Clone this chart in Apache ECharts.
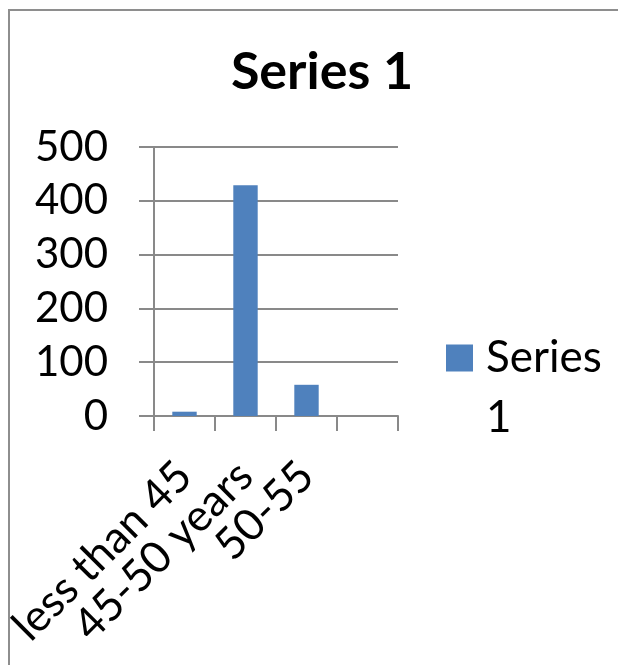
<!DOCTYPE html>
<html>
<head>
<meta charset="utf-8">
<script src="https://cdn.jsdelivr.net/npm/echarts@6/dist/echarts.min.js"></script>
<style>
  html, body { margin: 0; padding: 0; background: #ffffff; }
  #chart { width: 618px; height: 665px; }
</style>
</head>
<body>
<div id="chart"></div>
<script>
// Age groups and head counts
const categories = ['less than 45', '45-50 years', '50-55', ''];
const seriesName = 'Series 1';
const seriesValues = [8, 429, 58, null];
const yTicks = [0, 100, 200, 300, 400, 500];

const FONT = 'Lato, "Open Sans", sans-serif';
const GRAY = '#898989';
const BAR_COLOR = '#4F81BD';

const chart = echarts.init(document.getElementById('chart'), null, { renderer: 'canvas' });

chart.setOption({
  backgroundColor: '#ffffff',
  animation: false,
  title: {
    text: seriesName,
    left: 317,
    textAlign: 'center',
    top: 41,
    textStyle: { fontFamily: FONT, fontWeight: 'bold', fontSize: 52, color: '#000000' }
  },
  graphic: [{
    type: 'rect',
    shape: { x: 9, y: 10, width: 700, height: 800 },
    style: { fill: 'none', stroke: '#8e8e8e', lineWidth: 2 },
    silent: true
  }],
  // Legend: the swatch sits beside the first line of the wrapped name
  legend: {
    data: [seriesName],
    orient: 'vertical',
    left: 441,
    top: 328,
    padding: 0,
    itemWidth: 0,
    itemHeight: 0,
    itemGap: 0,
    icon: 'rect',
    formatter: () => '{box|}{gap|}{t|Series}\n{indent|}{t|1}',
    textStyle: {
      fontFamily: FONT, fontSize: 44, color: '#000000', lineHeight: 60,
      rich: {
        box: { width: 27, height: 27, backgroundColor: BAR_COLOR },
        gap: { width: 13 },
        indent: { width: 40 },
        t: { fontFamily: FONT, fontSize: 44, color: '#000000', lineHeight: 60 }
      }
    }
  },
  grid: { left: 154, right: 220, top: 147, bottom: 249, containLabel: false },
  xAxis: {
    type: 'category',
    data: categories,
    boundaryGap: true,
    axisLine: { show: true, lineStyle: { color: GRAY, width: 2 } },
    axisTick: { show: true, length: 15, alignWithLabel: false, lineStyle: { color: GRAY, width: 2 } },
    axisLabel: {
      interval: 0, rotate: 45, margin: 53,
      padding: [11, 0, 0, 0],
      fontFamily: FONT, fontSize: 44, color: '#000000'
    },
    splitLine: { show: false }
  },
  yAxis: {
    type: 'value',
    min: yTicks[0],
    max: yTicks[yTicks.length - 1],
    interval: yTicks[1] - yTicks[0],
    axisLine: { show: true, lineStyle: { color: GRAY, width: 2 } },
    axisTick: { show: true, length: 15, lineStyle: { color: GRAY, width: 2 } },
    axisLabel: { margin: 46, fontFamily: FONT, fontSize: 42, color: '#000000' },
    splitLine: { show: true, lineStyle: { color: GRAY, width: 2 } }
  },
  series: [{
    name: seriesName,
    type: 'bar',
    data: seriesValues,
    barWidth: '40%',
    itemStyle: { color: BAR_COLOR }
  }]
});
</script>
</body>
</html>
